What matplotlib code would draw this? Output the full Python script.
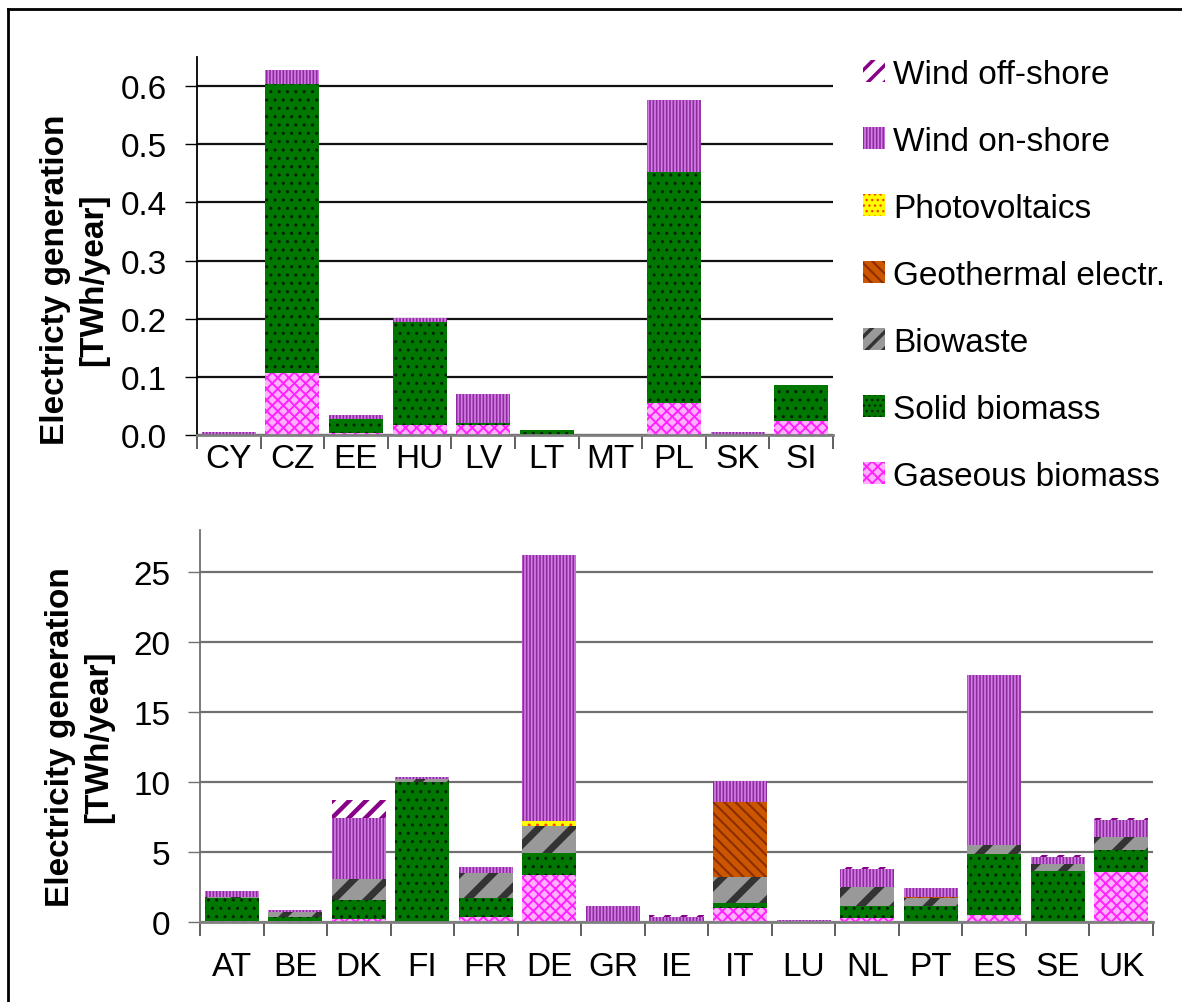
import numpy as np
import matplotlib
matplotlib.use("Agg")
import matplotlib.pyplot as plt
from matplotlib.lines import Line2D
from matplotlib.ticker import FormatStrFormatter

plt.rcParams['font.family'] = ['Liberation Sans', 'DejaVu Sans']

# --- data (TWh/year) ---
series = ["Gaseous biomass", "Solid biomass", "Biowaste", "Geothermal electr.",
          "Photovoltaics", "Wind on-shore", "Wind off-shore"]

countries_top = ["CY", "CZ", "EE", "HU", "LV", "LT", "MT", "PL", "SK", "SI"]
gas_top      = [0.0, 0.106, 0.004, 0.018, 0.018, 0.0, 0.0, 0.055, 0.0, 0.024]
solid_top    = [0.0, 0.497, 0.024, 0.176, 0.003, 0.008, 0.0, 0.397, 0.0, 0.062]
biowaste_top = [0.0] * 10
geo_top      = [0.0] * 10
pv_top       = [0.0] * 10
wind_on_top  = [0.005, 0.024, 0.006, 0.007, 0.049, 0.0, 0.0, 0.124, 0.006, 0.0]
wind_off_top = [0.0] * 10

countries_bot = ["AT", "BE", "DK", "FI", "FR", "DE", "GR", "IE", "IT", "LU",
                 "NL", "PT", "ES", "SE", "UK"]
gas_bot      = [0.05, 0.05, 0.21, 0.02, 0.38, 3.38, 0.0, 0.0, 1.02, 0.05, 0.29, 0.03, 0.52, 0.02, 3.60]
solid_bot    = [1.70, 0.33, 1.36, 10.0, 1.33, 1.57, 0.0, 0.02, 0.36, 0.0, 0.85, 1.14, 4.36, 3.65, 1.54]
biowaste_bot = [0.05, 0.36, 1.50, 0.20, 1.81, 1.91, 0.0, 0.0, 1.86, 0.0, 1.38, 0.57, 0.64, 0.47, 0.96]
geo_bot      = [0.0, 0.0, 0.0, 0.0, 0.0, 0.0, 0.0, 0.0, 5.33, 0.0, 0.0, 0.08, 0.0, 0.0, 0.0]
pv_bot       = [0.0, 0.0, 0.0, 0.0, 0.0, 0.35, 0.0, 0.0, 0.0, 0.0, 0.0, 0.0, 0.0, 0.0, 0.0]
wind_on_bot  = [0.45, 0.14, 4.36, 0.15, 0.41, 19.03, 1.12, 0.33, 1.50, 0.10, 1.27, 0.62, 12.12, 0.48, 1.19]
wind_off_bot = [0.0, 0.0, 1.28, 0.0, 0.0, 0.0, 0.0, 0.12, 0.0, 0.0, 0.12, 0.0, 0.0, 0.14, 0.14]

# face, hatch colour, hatch, hatch linewidth, legend hatch
styles = [
    ("#FFB0FF", "#FF22FF", "xxx",    1.4, "xxx"),     # gaseous
    ("#007700", "#002200", "..",     1.0, "..."),     # solid
    ("#999999", "#333333", "/",      5.0, "//"),      # biowaste
    ("#CC5500", "#8A2E00", "\\\\\\", 1.5, "\\\\\\"),  # geothermal
    ("#FFFF00", "#FF4400", "..",     1.0, "..."),     # pv
    ("#8E2A9E", "#D37FE6", "|||||",  1.2, "|||||"),   # wind on-shore
    ("white",   "#880088", "//",     3.2, "//"),      # wind off-shore
]

FS = 24

fig = plt.figure(figsize=(11.82, 10.03), dpi=100)
W, H = 1182, 1003

ax1 = fig.add_axes([197 / W, 1 - 436 / H, 636 / W, 378 / H])
ax2 = fig.add_axes([200 / W, 1 - 923 / H, 953 / W, 392 / H])


def draw(ax, countries, data, grid_color, left_color, xpad):
    x = np.arange(len(countries))
    bottom = np.zeros(len(countries))
    handles = []
    for vals, name, (fc, hc, hatch, hlw, _) in zip(data, series, styles):
        with plt.rc_context({'hatch.linewidth': hlw}):
            bars = ax.bar(x, vals, 0.85, bottom=bottom, color=fc, edgecolor=hc,
                          hatch=hatch, linewidth=0, label=name, zorder=2)
        handles.append(bars)
        bottom += np.array(vals)
    ax.set_xlim(-0.5, len(countries) - 0.5)
    ax.set_xticks(x)
    ax.set_xticklabels(countries, fontsize=FS)
    ax.set_xticks(np.arange(len(countries) + 1) - 0.5, minor=True)
    ax.tick_params(axis='x', which='major', length=0, pad=xpad)
    ax.tick_params(axis='x', which='minor', length=10, width=1.2, color='#444444', direction='out')
    ax.tick_params(axis='y', length=9, width=1.0, direction='out', labelsize=FS, pad=12.5,
                   color=left_color)
    ax.yaxis.grid(True, color=grid_color, linewidth=1.6)
    ax.set_axisbelow(True)
    ax.spines['top'].set_visible(False)
    ax.spines['right'].set_visible(False)
    ax.spines['left'].set_color(left_color)
    ax.spines['left'].set_linewidth(1.3)
    ax.spines['bottom'].set_color('#808080')
    ax.spines['bottom'].set_linewidth(2)
    return handles


handles = draw(ax1, countries_top,
               [gas_top, solid_top, biowaste_top, geo_top, pv_top, wind_on_top, wind_off_top],
               '#111111', 'black', 6)
ax1.set_ylim(0, 0.65)
ax1.set_yticks(np.arange(0, 0.61, 0.1))
ax1.yaxis.set_major_formatter(FormatStrFormatter('%.1f'))

draw(ax2, countries_bot,
     [gas_bot, solid_bot, biowaste_bot, geo_bot, pv_bot, wind_on_bot, wind_off_bot],
     '#707070', '#707070', 21)
ax2.set_ylim(0, 28)
ax2.set_yticks(np.arange(0, 26, 5))

fig.text(75 / W, 1 - 280 / H, "Electricty generation\n[TWh/year]", rotation=90,
         ha='center', va='center', multialignment='center', fontsize=FS,
         fontweight='bold', linespacing=1.3)
fig.text(80 / W, 1 - 737 / H, "Electricity generation\n[TWh/year]", rotation=90,
         ha='center', va='center', multialignment='center', fontsize=FS,
         fontweight='bold', linespacing=1.3)

leg = fig.legend(handles[::-1], series[::-1], loc='upper left',
                 bbox_to_anchor=(863 / W, 1 - 60 / H), frameon=False, fontsize=FS,
                 labelspacing=1.08, handlelength=0.65, handleheight=0.65,
                 handletextpad=0.25, borderpad=0, borderaxespad=0)
for patch, st in zip(leg.legend_handles, styles[::-1]):
    patch.set_hatch(st[4])
    patch.set_hatch_linewidth(min(st[3], 2.5))

# outer frame (left and top edges visible)
fig.add_artist(Line2D([8 / W, 8 / W], [0, 1 - 10 / H], transform=fig.transFigure,
                      color='black', linewidth=2))
fig.add_artist(Line2D([8 / W, 1], [1 - 10 / H, 1 - 10 / H], transform=fig.transFigure,
                      color='black', linewidth=2))

fig.savefig("out.png", dpi=100)
